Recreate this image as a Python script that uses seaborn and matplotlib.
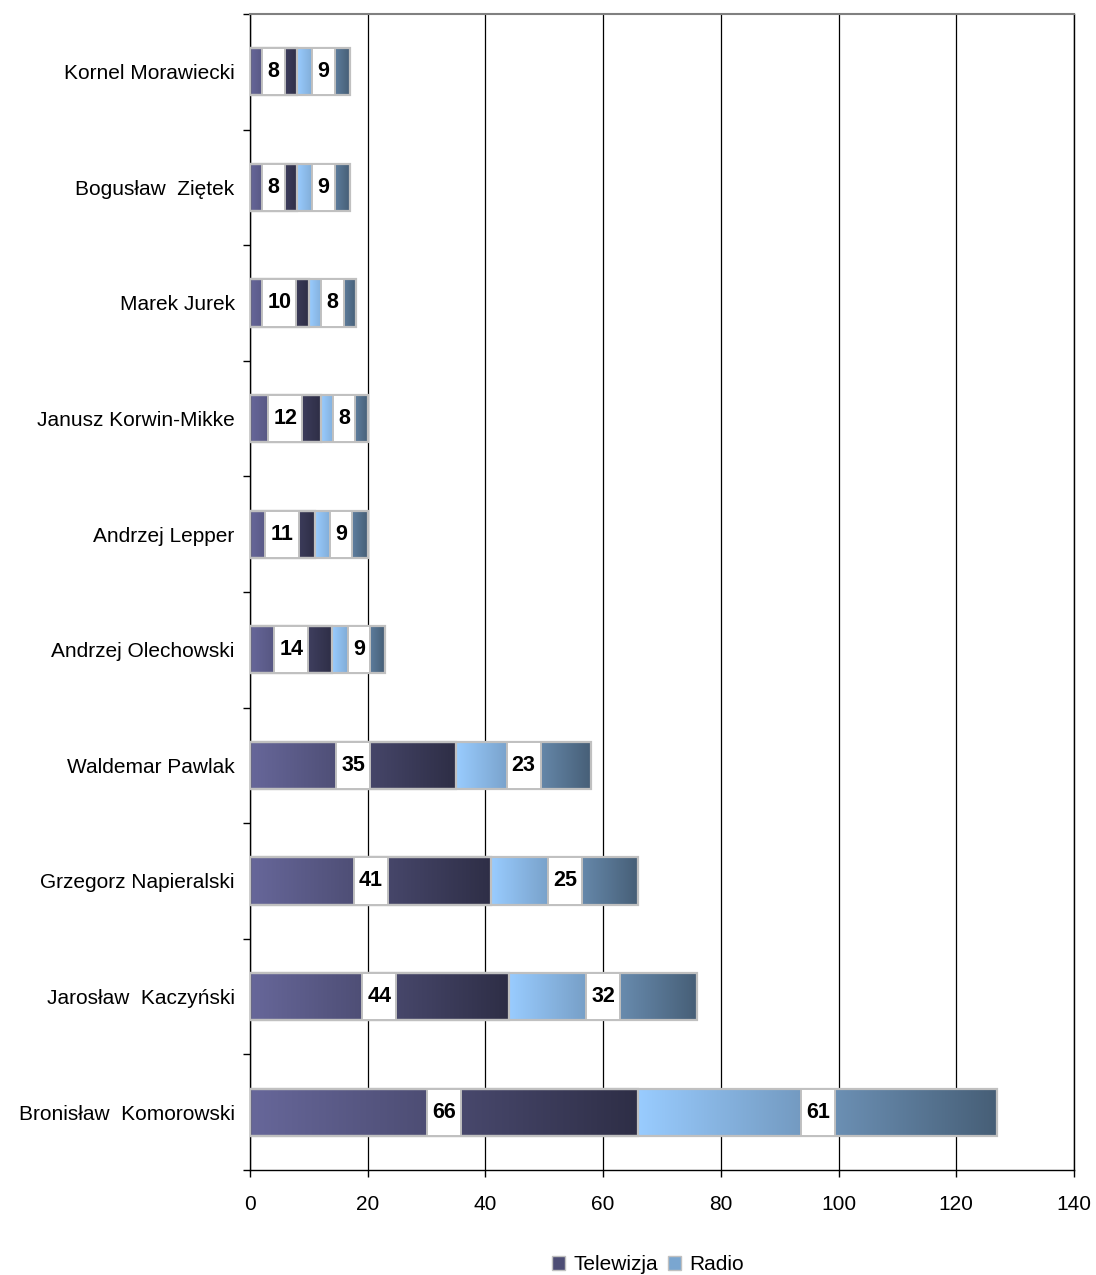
import numpy as np
import pandas as pd
import matplotlib
matplotlib.use("Agg")
import matplotlib.pyplot as plt
import seaborn as sns
from matplotlib.patches import Rectangle, Patch
from matplotlib.colors import to_rgb

# data (top to bottom)
kandydaci = ["Kornel Morawiecki", "Bogusław  Ziętek", "Marek Jurek",
             "Janusz Korwin-Mikke", "Andrzej Lepper", "Andrzej Olechowski",
             "Waldemar Pawlak", "Grzegorz Napieralski", "Jarosław  Kaczyński",
             "Bronisław  Komorowski"]
telewizja = [8, 8, 10, 12, 11, 14, 35, 41, 44, 66]
radio = [9, 9, 8, 8, 9, 9, 23, 25, 32, 61]

df = pd.DataFrame({"kandydat": kandydaci, "tv": telewizja, "radio": radio})
df["suma"] = df["tv"] + df["radio"]

sns.set_style("white")
plt.rcParams["font.family"] = ["Liberation Sans", "DejaVu Sans"]
plt.rcParams["text.color"] = "black"
plt.rcParams["xtick.color"] = "black"
plt.rcParams["ytick.color"] = "black"

fig = plt.figure(figsize=(10.96, 12.75), dpi=100)
ax = fig.add_axes([250 / 1096, 1 - 1170 / 1275, 824 / 1096, 1156 / 1275])

bar_h = 0.41
# radio drawn as the full stack, tv on top of it
sns.barplot(data=df, x="suma", y="kandydat", orient="h", color="#99ccff",
            width=bar_h, ax=ax, errorbar=None)
sns.barplot(data=df, x="tv", y="kandydat", orient="h", color="#666699",
            width=bar_h, ax=ax, errorbar=None)

tv_grad = (to_rgb("#67679a"), to_rgb("#2e2e46"))
radio_grad = (to_rgb("#99ccff"), to_rgb("#465e76"))

def gradient(c0, c1):
    t = np.linspace(0, 1, 256)[None, :, None]
    return np.array(c0)[None, None, :] * (1 - t) + np.array(c1)[None, None, :] * t

n = len(df)
patches = list(ax.patches)
for i, p in enumerate(patches):
    y0, h = p.get_y(), p.get_height()
    if i < n:
        x0, x1 = df["tv"].iloc[i], df["suma"].iloc[i]
        g = radio_grad
    else:
        x0, x1 = 0, df["tv"].iloc[i - n]
        g = tv_grad
    im = ax.imshow(gradient(*g), extent=[x0, x1, y0 + h, y0], aspect="auto",
                   interpolation="bilinear", zorder=2)
    im.set_clip_path(p)
    p.set_facecolor("none")
    p.set_edgecolor("#c0c0c0")
    p.set_linewidth(1.6)
    p.set_zorder(3)

# value labels in white boxes
px_per_unit = 824 / 140
for i in range(n):
    y = i
    for mid, val in [(df["tv"].iloc[i] / 2, df["tv"].iloc[i]),
                     (df["tv"].iloc[i] + df["radio"].iloc[i] / 2, df["radio"].iloc[i])]:
        s = str(val)
        bw = (len(s) * 11.5 + 11) / px_per_unit
        ax.add_patch(Rectangle((mid - bw / 2, y - bar_h / 2), bw, bar_h,
                               facecolor="white", edgecolor="#c0c0c0",
                               linewidth=1.4, zorder=4))
        ax.text(mid, y, s, ha="center", va="center", fontsize=15.5,
                fontweight="bold", color="black", zorder=5)

ax.set_xlim(0, 140)
ax.set_ylim(n - 0.5, -0.5)
ax.set_xticks(np.arange(0, 141, 20))
ax.xaxis.grid(True, color="black", linewidth=0.9)
ax.yaxis.grid(False)
ax.set_axisbelow(True)

ax.set_yticks(range(n))
ax.set_yticklabels(kandydaci)
ax.set_yticks(np.arange(-0.5, n, 1), minor=True)
ax.tick_params(axis="y", which="major", length=0, pad=11, labelsize=15)
ax.tick_params(axis="y", which="minor", length=5, width=1, color="black",
               direction="out", left=True)
ax.tick_params(axis="x", length=5, width=1, color="black", direction="out",
               bottom=True, pad=13, labelsize=15)
ax.set_xlabel("")
ax.set_ylabel("")

for side in ["left", "bottom", "right"]:
    ax.spines[side].set_color("black")
    ax.spines[side].set_linewidth(1)
ax.spines["top"].set_color("#808080")
ax.spines["top"].set_linewidth(1.5)

handles = [Patch(facecolor="#4d4d75", edgecolor="#c0c0c0", label="Telewizja"),
           Patch(facecolor="#7aa6d0", edgecolor="#c0c0c0", label="Radio")]
ax.legend(handles=handles, loc="center", bbox_to_anchor=(0.483, -0.082),
          ncol=2, frameon=False, fontsize=15, handlelength=0.6,
          handleheight=0.6, handletextpad=0.4, columnspacing=0.5)

fig.savefig("out.png", dpi=100)
